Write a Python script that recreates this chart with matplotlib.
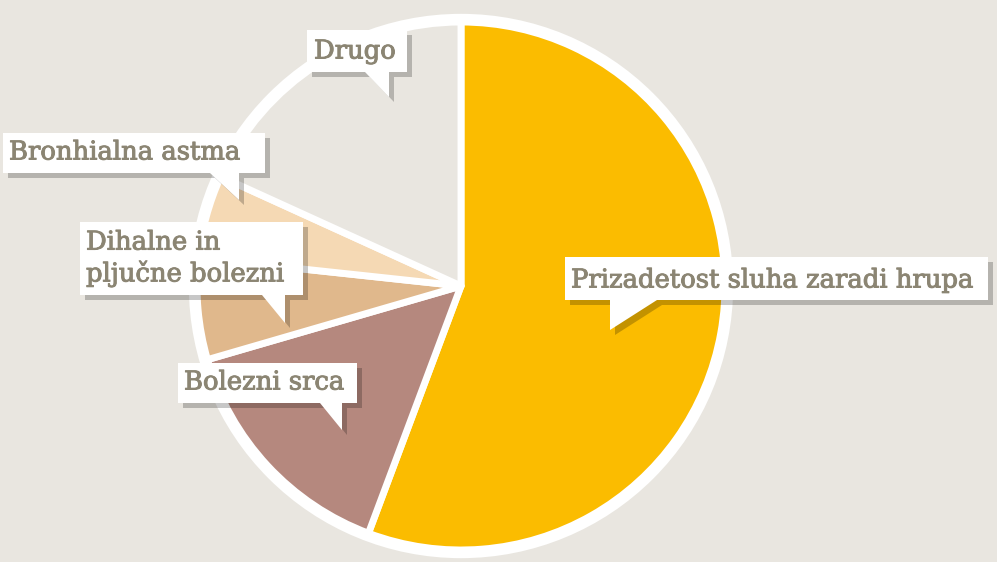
import matplotlib
matplotlib.use("Agg")
import matplotlib.pyplot as plt
import matplotlib.patheffects as pe
from matplotlib.patches import Polygon, Circle

# shares of occupational diseases (percent), clockwise from the top
labels = ["Prizadetost sluha zaradi hrupa", "Bolezni srca",
          "Dihalne in\npljučne bolezni", "Bronhialna astma", "Drugo"]
values = [55.7, 14.8, 6.2, 5.1, 18.2]
colors = ["#fbbc00", "#b5887e", "#e0b88c", "#f5d9b4", "#e9e6e0"]

bg = "#e9e6e0"
txt_color = "#8b8573"
W, H = 997, 562

fig = plt.figure(figsize=(W / 100, H / 100), dpi=100)
fig.patch.set_facecolor(bg)
ax = fig.add_axes([0, 0, 1, 1])
ax.set_facecolor(bg)

cx, cy, r = 461, H - 286, 264
ax.pie(values, colors=colors, startangle=90, counterclock=False,
       center=(cx, cy), radius=r,
       wedgeprops=dict(edgecolor="white", linewidth=5, joinstyle="round"))
ax.add_patch(Circle((cx, cy), r + 4, fill=False, edgecolor="white", lw=6))

# callout boxes: (left, top, right, bottom, tail_start_x, tip_x, tip_y) in pixels
boxes = [
    (565, 257, 988, 300, 657, 610, 330),
    (178, 363, 357, 403, 320, 342, 430),
    (80, 222, 303, 295, 262, 285, 323),
    (3, 133, 265, 173, 210, 239, 200),
    (307, 30, 407, 72, 365, 389, 97),
]
text_pos = [(571, 280), (184, 382), (86, 258), (9, 152), (314, 51)]


def callout(l, t, rr, b, ts, tx, ty):
    if ts > tx:
        pts = [(l, t), (rr, t), (rr, b), (ts, b), (tx, ty), (tx, b), (l, b)]
    else:
        pts = [(l, t), (rr, t), (rr, b), (tx, b), (tx, ty), (ts, b), (l, b)]
    return [(x, H - y) for x, y in pts]


for lab, bx, tp in zip(labels, boxes, text_pos):
    pts = callout(*bx)
    shadow = [(x + 5, y - 5) for x, y in pts]
    ax.add_patch(Polygon(shadow, closed=True, facecolor="black", alpha=0.22,
                         edgecolor="none", zorder=5))
    ax.add_patch(Polygon(pts, closed=True, facecolor="white",
                         edgecolor="none", zorder=6))
    ax.text(tp[0], H - tp[1], lab, fontsize=18.6, family="DejaVu Serif",
            color=txt_color, ha="left", va="center", zorder=7,
            linespacing=1.22,
            path_effects=[pe.withStroke(linewidth=0.7, foreground=txt_color)])

ax.set_xlim(0, W)
ax.set_ylim(0, H)
ax.set_aspect("auto")
ax.axis("off")

fig.savefig("out.png", dpi=100, facecolor=bg)
